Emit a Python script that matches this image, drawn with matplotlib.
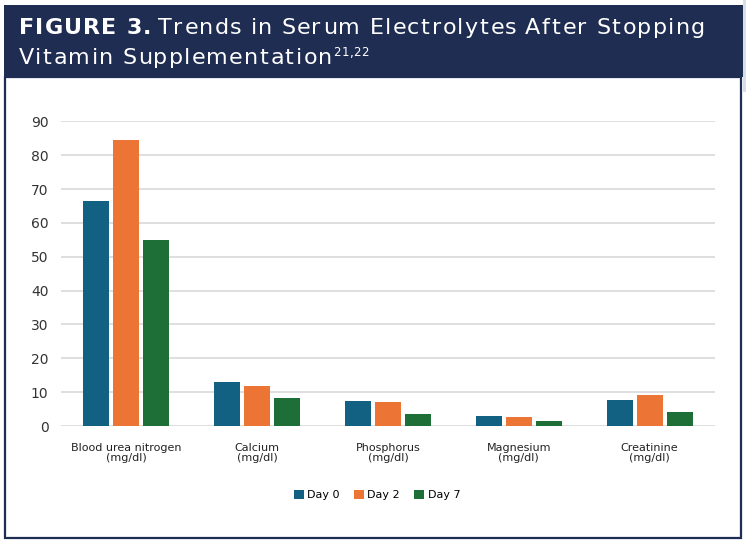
import numpy as np
import matplotlib
matplotlib.use("Agg")
import matplotlib.pyplot as plt
import matplotlib.patches as patches
from matplotlib.font_manager import FontProperties, findfont
from matplotlib.ft2font import FT2Font

W, H = 746, 542
NAVY = "#1f2d52"

categories = ["Blood urea nitrogen\n(mg/dl)", "Calcium\n(mg/dl)", "Phosphorus\n(mg/dl)",
              "Magnesium\n(mg/dl)", "Creatinine\n(mg/dl)"]
series_names = ["Day 0", "Day 2", "Day 7"]
day0 = [66.5, 13.0, 7.4, 3.0, 7.7]
day2 = [84.5, 11.8, 7.0, 2.7, 9.2]
day7 = [55.0, 8.2, 3.4, 1.5, 4.0]
colors = ["#126182", "#ec7434", "#1e6e38"]
yticks = [0, 10, 20, 30, 40, 50, 60, 70, 80, 90]


def fx(px):
    return px / W


def fy(py):
    return 1 - py / H


def tracked_text(fig, x0, ybase, s, size, track, weight="normal", color="white"):
    # draw a string char by char with extra letter spacing (pixels), return end x
    prop = FontProperties(family="DejaVu Sans", weight=weight, size=size)
    font = FT2Font(findfont(prop), hinting_factor=1)
    font.set_size(size, 100)
    xp = x0
    for ch in s:
        if ch != " ":
            fig.text(fx(xp), fy(ybase), ch, fontproperties=prop, color=color,
                     va="baseline", ha="left")
        g = font.load_char(ord(ch))
        xp += g.horiAdvance / 64 + track
    return xp


fig = plt.figure(figsize=(W / 100, H / 100), dpi=100)
fig.patch.set_facecolor("white")

# frame and title band
fig.add_artist(patches.Rectangle((fx(743), fy(92)), fx(3), fy(0) - fy(92),
                                 transform=fig.transFigure, facecolor="#d8dee7",
                                 edgecolor="none"))
fig.add_artist(patches.Rectangle((fx(5), fy(538)), fx(741) - fx(5), fy(77) - fy(538),
                                 transform=fig.transFigure, fill=False,
                                 edgecolor=NAVY, linewidth=1.6))
fig.add_artist(patches.Rectangle((fx(4), fy(77)), fx(743) - fx(4), fy(5) - fy(77),
                                 transform=fig.transFigure, facecolor=NAVY,
                                 edgecolor="none"))

ax = fig.add_axes([fx(61), fy(426), fx(715) - fx(61), fy(121.3) - fy(426)])
x = np.arange(len(categories))
step = 30 / 130.8
bw = 26 / 130.8
for i, (vals, name) in enumerate(zip([day0, day2, day7], series_names)):
    ax.bar(x + (i - 1) * step, vals, width=bw, color=colors[i], label=name, zorder=3)

ax.set_xlim(-0.5, len(categories) - 0.5)
ax.set_ylim(0, 90)
ax.set_yticks(yticks)
ax.set_xticks(x)
ax.set_xticklabels(categories, fontsize=8, color="#222222", linespacing=1.1)
ax.tick_params(axis="y", length=0, pad=9, labelsize=10, labelcolor="#333333")
ax.tick_params(axis="x", length=0, pad=12)
ax.grid(axis="y", color="#d9d9d9", linewidth=1.2, zorder=0)
ax.set_axisbelow(True)
for s in ax.spines.values():
    s.set_visible(False)

fig.legend(loc="center", bbox_to_anchor=(fx(377), fy(495)), ncol=3, frameon=False,
           fontsize=8, handlelength=0.9, handleheight=0.9, handletextpad=0.3,
           columnspacing=1.3)

# title with wide letter spacing
tsize = 16
trk = 1.35
xe = tracked_text(fig, 19, 34.5, "FIGURE 3.", tsize, trk, weight="bold")
tracked_text(fig, xe + 6, 34.5, "Trends in Serum Electrolytes After Stopping", tsize, trk)
xe = tracked_text(fig, 19, 63.5, "Vitamin Supplementation", tsize, trk)
tracked_text(fig, xe, 56.5, "21,22", 8.5, 0.3)

fig.savefig("out.png", dpi=100)
